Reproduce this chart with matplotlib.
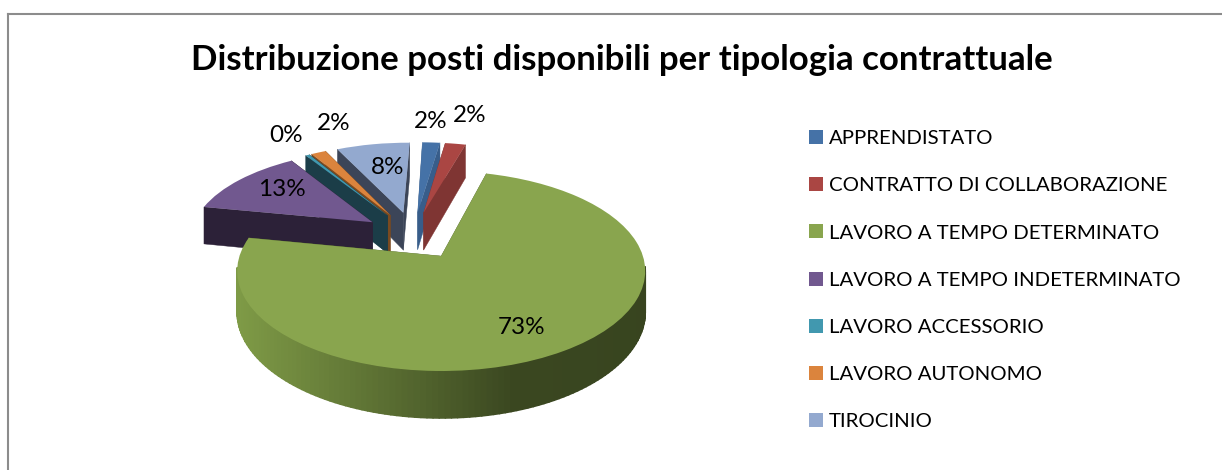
import matplotlib
matplotlib.use('Agg')
import matplotlib.pyplot as plt
from matplotlib.collections import PolyCollection
from matplotlib.colors import to_rgb
from matplotlib.transforms import Transform
import numpy as np

TITLE = 'Distribuzione posti disponibili per tipologia contrattuale'
categories = ['APPRENDISTATO', 'CONTRATTO DI COLLABORAZIONE',
              'LAVORO A TEMPO DETERMINATO', 'LAVORO A TEMPO INDETERMINATO',
              'LAVORO ACCESSORIO', 'LAVORO AUTONOMO', 'TIROCINIO']
shares = [1.8, 2.1, 73.49, 12.6, 0.4, 1.5, 7.51]

top_colors = ['#4572a7', '#aa4643', '#89a54e', '#71588f',
              '#4198af', '#db843d', '#93a9cf']
wall_colors = ['#385d8a', '#7f3533', '#5a6e32', '#2c2138',
               '#1b3d48', '#7a4a20', '#3c4558']
# back to front, green goes last because it sits over the others
draw_order = [6, 0, 1, 5, 4, 3, 2]
# percent labels, in pixels
label_xy = [(431, 121), (470, 115), (522, 328), (282, 190),
            (286, 135), (334, 124), (388, 167)]

# perspective of the tilted disc, fitted on the picture
CX, CY = 441, 257
SCALE_X, SCALE_Y = 202, 98
TILT = 0.15
DEPTH = 40
SMALL_RADIUS = 0.93
SMALL_SHIFT = 0.005
GREEN_SHIFT = 0.01


def project(x, y, z=0.0):
    w = 1 + TILT * y
    return CX + SCALE_X * x / w, CY - (SCALE_Y * y - DEPTH * z) / w


class DiscToPixels(Transform):
    input_dims = 2
    output_dims = 2

    def transform_non_affine(self, xy):
        xy = np.asarray(xy, dtype=float)
        px, py = project(xy[:, 0], xy[:, 1])
        return np.column_stack([px, py])


plt.rcParams['font.family'] = ['Lato', 'DejaVu Sans']

fig = plt.figure(figsize=(12.22, 4.70), dpi=100)
ax = fig.add_axes([0, 0, 1, 1])

wedges, _ = ax.pie(shares, startangle=89.25, counterclock=False,
                   center=(-0.147, 0.23), radius=1.0,
                   explode=[0.26] * len(shares), frame=False)

ax.set_aspect('auto')
ax.set_frame_on(True)
ax.set_xlim(0, 1222)
ax.set_ylim(470, 0)
ax.set_xticks([])
ax.set_yticks([])
for side in ['right', 'bottom']:
    ax.spines[side].set_visible(False)


def wall_quad(x, y):
    p0 = project(x[0], y[0])
    p1 = project(x[1], y[1])
    p2 = project(x[1], y[1], 1.0)
    p3 = project(x[0], y[0], 1.0)
    return [p0, p1, p2, p3]


def side_shade(px, base):
    # Excel lights the rim from the left
    rgb = np.array(to_rgb(base))
    light = np.interp(px, [240, 510, 650], [1.4, 0.65, 0.62])
    return tuple(np.clip(rgb * light, 0, 1))


disc_to_pixels = DiscToPixels() + ax.transData

for rank, i in enumerate(draw_order):
    w = wedges[i]
    w.set_transform(disc_to_pixels)
    w.set_facecolor(top_colors[i])
    w.set_edgecolor('none')
    w.set_zorder(3 + 2 * rank)
    if i == 2:
        w.set_center((w.center[0] + GREEN_SHIFT, w.center[1]))
    else:
        w.set_radius(SMALL_RADIUS)
        w.set_center((w.center[0] + SMALL_SHIFT, w.center[1]))

    cx, cy = w.center
    a = np.radians(np.linspace(w.theta1, w.theta2, 181))
    rim_x = cx + w.r * np.cos(a)
    rim_y = cy + w.r * np.sin(a)

    # the two cut faces
    cuts = []
    for k in [0, -1]:
        cuts.append(wall_quad([cx, rim_x[k]], [cy, rim_y[k]]))
    ax.add_collection(PolyCollection(cuts, facecolors=wall_colors[i],
                                     edgecolors=wall_colors[i], linewidths=0.3,
                                     zorder=2 + 2 * rank))

    # outer rim, split up to get the shading, only the part facing us
    quads = []
    shades = []
    for k in range(len(a) - 1):
        if np.sin(a[k]) > -0.12 and np.sin(a[k + 1]) > -0.12:
            continue
        q = wall_quad(rim_x[k:k + 2], rim_y[k:k + 2])
        quads.append(q)
        if i == 2:
            shades.append(side_shade(q[0][0], wall_colors[i]))
        else:
            shades.append(wall_colors[i])
    if quads:
        ax.add_collection(PolyCollection(quads, facecolors=shades, edgecolors=shades,
                                         linewidths=1.2, zorder=2 + 2 * rank))

for i, (x, y) in enumerate(label_xy):
    ax.text(x, y, f'{shares[i]:.0f}%', fontsize=17.5, color='black',
            ha='center', va='center', zorder=40)

ax.text(621.5, 60.5, TITLE, fontsize=25.1, fontweight='bold', color='black',
        ha='center', va='center', zorder=40)

ax.spines['left'].set_color('#8c8c8c')
ax.spines['top'].set_color('#8c8c8c')
ax.spines['left'].set_linewidth(1.5)
ax.spines['top'].set_linewidth(1.5)
ax.spines['left'].set_position(('data', 8))
ax.spines['top'].set_position(('data', 14))
ax.spines['left'].set_bounds(14, 470)
ax.spines['top'].set_bounds(8, 1222)

ax.legend(wedges, categories, loc='upper left',
          bbox_to_anchor=(809 / 1222, 1 - 130 / 470), frameon=False,
          fontsize=14.65, handlelength=0.69, handleheight=0.69,
          handletextpad=0.3, labelspacing=1.474, borderpad=0, borderaxespad=0)

fig.savefig('out.png', dpi=100)
